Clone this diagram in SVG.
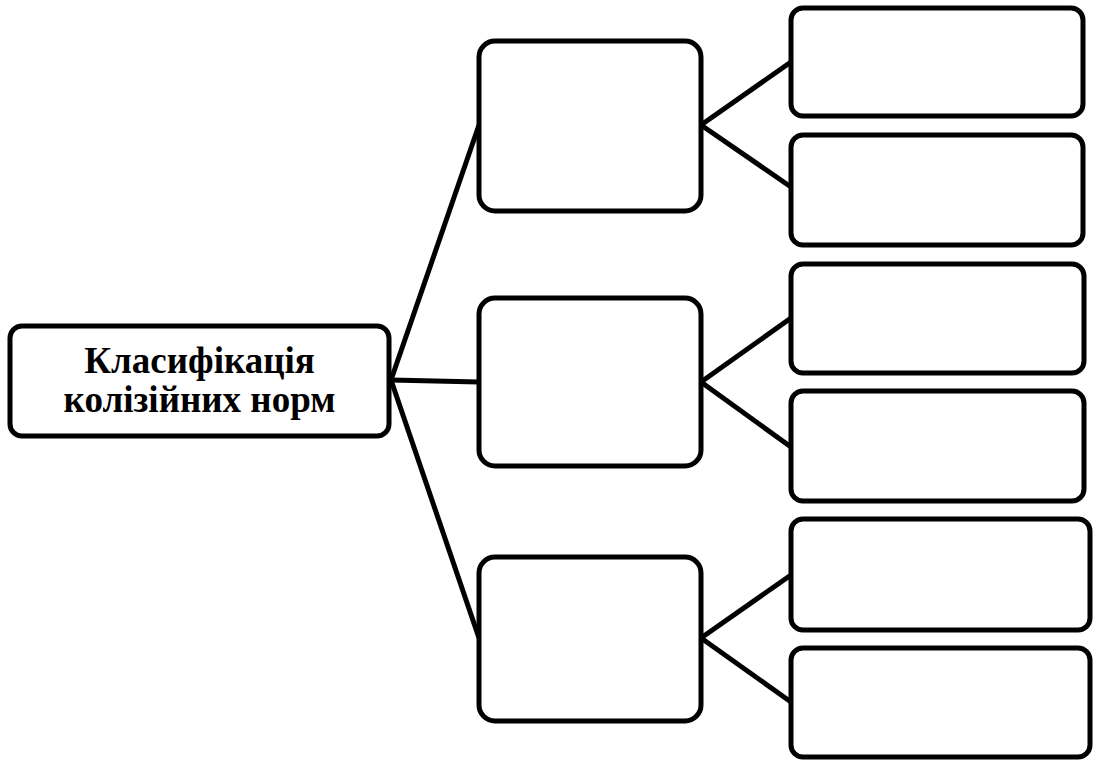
<svg xmlns="http://www.w3.org/2000/svg" width="1098" height="762" viewBox="0 0 1098 762">
<style>
.box{fill:#fff;stroke:#000;stroke-width:5}
.con{stroke:#000;stroke-width:5;fill:none}
.lbl{font-family:"Liberation Serif","Times New Roman",serif;font-weight:bold;font-size:37px;fill:#000;text-anchor:middle}
</style>
<rect width="1098" height="762" fill="#fff"/>
<g id="connectors">
<line class="con" x1="391" y1="380" x2="479" y2="125"/>
<line class="con" x1="391" y1="380" x2="479" y2="382"/>
<line class="con" x1="391" y1="380" x2="479" y2="638"/>
<line class="con" x1="701" y1="125" x2="791" y2="62"/>
<line class="con" x1="701" y1="125" x2="791" y2="187"/>
<line class="con" x1="701" y1="382" x2="791" y2="318"/>
<line class="con" x1="701" y1="382" x2="791" y2="447"/>
<line class="con" x1="701" y1="638" x2="791" y2="575"/>
<line class="con" x1="701" y1="638" x2="791" y2="702"/>
</g>
<g id="root">
<rect class="box" x="10" y="326" width="379" height="110" rx="12"/>
<text class="lbl" x="199.5" y="373">Класифікація</text>
<text class="lbl" x="199.5" y="412">колізійних норм</text>
</g>
<g id="mid1"><rect class="box" x="479" y="41" width="222" height="170" rx="16"/></g>
<g id="mid2"><rect class="box" x="479" y="298" width="222" height="168" rx="16"/></g>
<g id="mid3"><rect class="box" x="479" y="557" width="222" height="164" rx="16"/></g>
<g id="leaf1"><rect class="box" x="791" y="8" width="292" height="108" rx="12"/></g>
<g id="leaf2"><rect class="box" x="791" y="135" width="292" height="110" rx="12"/></g>
<g id="leaf3"><rect class="box" x="791" y="264" width="293" height="109" rx="12"/></g>
<g id="leaf4"><rect class="box" x="791" y="391" width="293" height="110" rx="12"/></g>
<g id="leaf5"><rect class="box" x="791" y="519" width="299" height="111" rx="12"/></g>
<g id="leaf6"><rect class="box" x="791" y="648" width="299" height="109" rx="12"/></g>
</svg>
